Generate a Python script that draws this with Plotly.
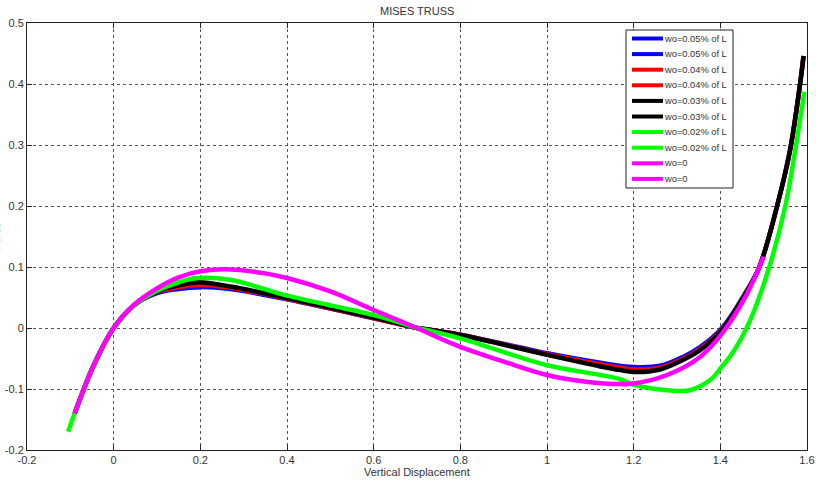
import plotly.graph_objects as go

# ---- data ----
x_blue = [-0.09, -0.046, 0.0, 0.0465, 0.1, 0.15, 0.2, 0.269, 0.4, 0.6, 0.7, 0.8, 1.0, 1.123, 1.2, 1.261, 1.315, 1.354, 1.404, 1.454, 1.49, 1.531, 1.561, 1.584, 1.592]
y_blue = [-0.14, -0.061, 0.0, 0.037, 0.057, 0.064, 0.067, 0.064, 0.047, 0.016, 0.0, -0.011, -0.0415, -0.057, -0.064, -0.062, -0.047, -0.031, 0.0, 0.053, 0.1, 0.2, 0.292, 0.4, 0.446]

x_red = [-0.09, -0.046, 0.0, 0.0465, 0.1, 0.15, 0.2, 0.269, 0.4, 0.6, 0.7, 0.8, 1.0, 1.169, 1.2, 1.261, 1.315, 1.354, 1.404, 1.454, 1.49, 1.531, 1.561, 1.584, 1.592]
y_red = [-0.14, -0.061, 0.0, 0.037, 0.059, 0.067, 0.071, 0.066, 0.048, 0.016, 0.0, -0.011, -0.043, -0.065, -0.068, -0.065, -0.05, -0.034, -0.002, 0.052, 0.1, 0.2, 0.292, 0.4, 0.446]

x_black = [-0.09, -0.046, 0.0, 0.0465, 0.1, 0.15, 0.197, 0.269, 0.4, 0.6, 0.7, 0.8, 1.0, 1.123, 1.169, 1.2, 1.261, 1.315, 1.354, 1.404, 1.454, 1.49, 1.531, 1.561, 1.584, 1.592]
y_black = [-0.14, -0.061, 0.0, 0.037, 0.06, 0.07, 0.075, 0.068, 0.049, 0.017, 0.0, -0.0115, -0.044, -0.063, -0.069, -0.072, -0.068, -0.052, -0.036, -0.003, 0.051, 0.1, 0.2, 0.292, 0.4, 0.446]

x_green = [-0.105, -0.09, -0.046, 0.0, 0.0465, 0.1, 0.15, 0.193, 0.269, 0.4, 0.6, 0.7, 0.8, 1.0, 1.123, 1.169, 1.2, 1.277, 1.33, 1.377, 1.404, 1.43, 1.469, 1.513, 1.55, 1.573, 1.594]
y_green = [-0.17, -0.14, -0.061, 0.0, 0.037, 0.061, 0.075, 0.082, 0.079, 0.053, 0.021, 0.0, -0.017, -0.061, -0.077, -0.084, -0.093, -0.102, -0.102, -0.085, -0.063, -0.039, 0.013, 0.1, 0.2, 0.292, 0.387]

x_mag = [-0.09, -0.046, 0.0, 0.0465, 0.1, 0.15, 0.2, 0.27, 0.346, 0.4, 0.5, 0.6, 0.7, 0.8, 0.9, 1.0, 1.09, 1.17, 1.2, 1.277, 1.354, 1.404, 1.46, 1.5]
y_mag = [-0.14, -0.061, 0.0, 0.038, 0.065, 0.083, 0.093, 0.096, 0.09, 0.082, 0.06, 0.0295, 0.0, -0.031, -0.055, -0.077, -0.088, -0.092, -0.091, -0.077, -0.047, -0.009, 0.054, 0.117]

series = [
    ("wo=0.05% of L", "#0000ff", x_blue, y_blue),
    ("wo=0.04% of L", "#ff0000", x_red, y_red),
    ("wo=0.03% of L", "#000000", x_black, y_black),
    ("wo=0.02% of L", "#00ff00", x_green, y_green),
    ("wo=0", "#ff00ff", x_mag, y_mag),
]
split_x = 0.7

x_ticks = [-0.2, 0, 0.2, 0.4, 0.6, 0.8, 1, 1.2, 1.4, 1.6]
x_ticktext = ["-0.2", "0", "0.2", "0.4", "0.6", "0.8", "1", "1.2", "1.4", "1.6"]
y_ticks = [-0.2, -0.1, 0, 0.1, 0.2, 0.3, 0.4, 0.5]
y_ticktext = ["-0.2", "-0.1", "0", "0.1", "0.2", "0.3", "0.4", "0.5"]

# ---- layout constants (pixels) ----
W, H = 816, 486
ML, MR, MT, MB = 27, 9, 23, 36
PW, PH = W - ML - MR, H - MT - MB


def px(xpix):
    return (xpix - ML) / PW


def py(ypix):
    return (H - MB - ypix) / PH


fig = go.Figure()
legend_entries = []
for name, color, xs, ys in series:
    a = [(x, y) for x, y in zip(xs, ys) if x <= split_x]
    b = [(x, y) for x, y in zip(xs, ys) if x >= split_x]
    for part in (a, b):
        fig.add_trace(go.Scatter(
            x=[p[0] for p in part], y=[p[1] for p in part],
            mode="lines", name=name, showlegend=False,
            line=dict(color=color, width=4.5, shape="spline", smoothing=1.0),
        ))
        legend_entries.append((name, color))

font_main = "Liberation Sans Narrow, Liberation Sans, Arial, sans-serif"
axis_common = dict(
    showline=True, mirror="ticks", linecolor="#222", linewidth=1,
    ticks="inside", ticklen=5, tickcolor="#222",
    showgrid=True, gridcolor="#555", griddash="dot", gridwidth=1,
    zeroline=False, automargin=False,
    tickfont=dict(family=font_main, size=11, color="#333"),
)
fig.update_xaxes(range=[-0.2, 1.6], tickvals=x_ticks, ticktext=x_ticktext, **axis_common)
fig.update_yaxes(range=[-0.2, 0.5], tickvals=y_ticks, ticktext=y_ticktext, **axis_common)

# ---- manual legend (box, line samples, labels) ----
shapes = [dict(type="rect", xref="paper", yref="paper",
               x0=px(626), x1=px(733), y0=py(188), y1=py(30),
               line=dict(color="#222", width=1), fillcolor="white", layer="above")]
annotations = []
for i, (name, color) in enumerate(legend_entries):
    yc = 38.5 + i * 15.6
    shapes.append(dict(type="line", xref="paper", yref="paper",
                       x0=px(632), x1=px(663), y0=py(yc), y1=py(yc),
                       line=dict(color=color, width=4), layer="above"))
    annotations.append(dict(text=name, xref="paper", yref="paper",
                            x=px(662), y=py(yc), xanchor="left", yanchor="middle",
                            showarrow=False,
                            font=dict(family=font_main, size=9.3, color="#333")))

annotations += [
    dict(text="MISES TRUSS", xref="paper", yref="paper", x=0.5, y=1,
         yanchor="bottom", yshift=4, showarrow=False,
         font=dict(family=font_main, size=11, color="#333")),
    dict(text="Vertical Displacement", xref="paper", yref="paper", x=0.5, y=0,
         yanchor="top", yshift=-14, showarrow=False,
         font=dict(family=font_main, size=11, color="#333")),
    dict(text="Force", xref="paper", yref="paper", x=px(3), y=0.5,
         xanchor="right", yanchor="middle", textangle=-90, showarrow=False,
         font=dict(family=font_main, size=11, color="#333")),
]

fig.update_layout(
    width=W, height=H,
    margin=dict(l=ML, r=MR, t=MT, b=MB),
    paper_bgcolor="white", plot_bgcolor="white",
    font=dict(family=font_main, size=11, color="#333"),
    showlegend=False,
    shapes=shapes,
    annotations=annotations,
)

fig.write_html("out.html")
